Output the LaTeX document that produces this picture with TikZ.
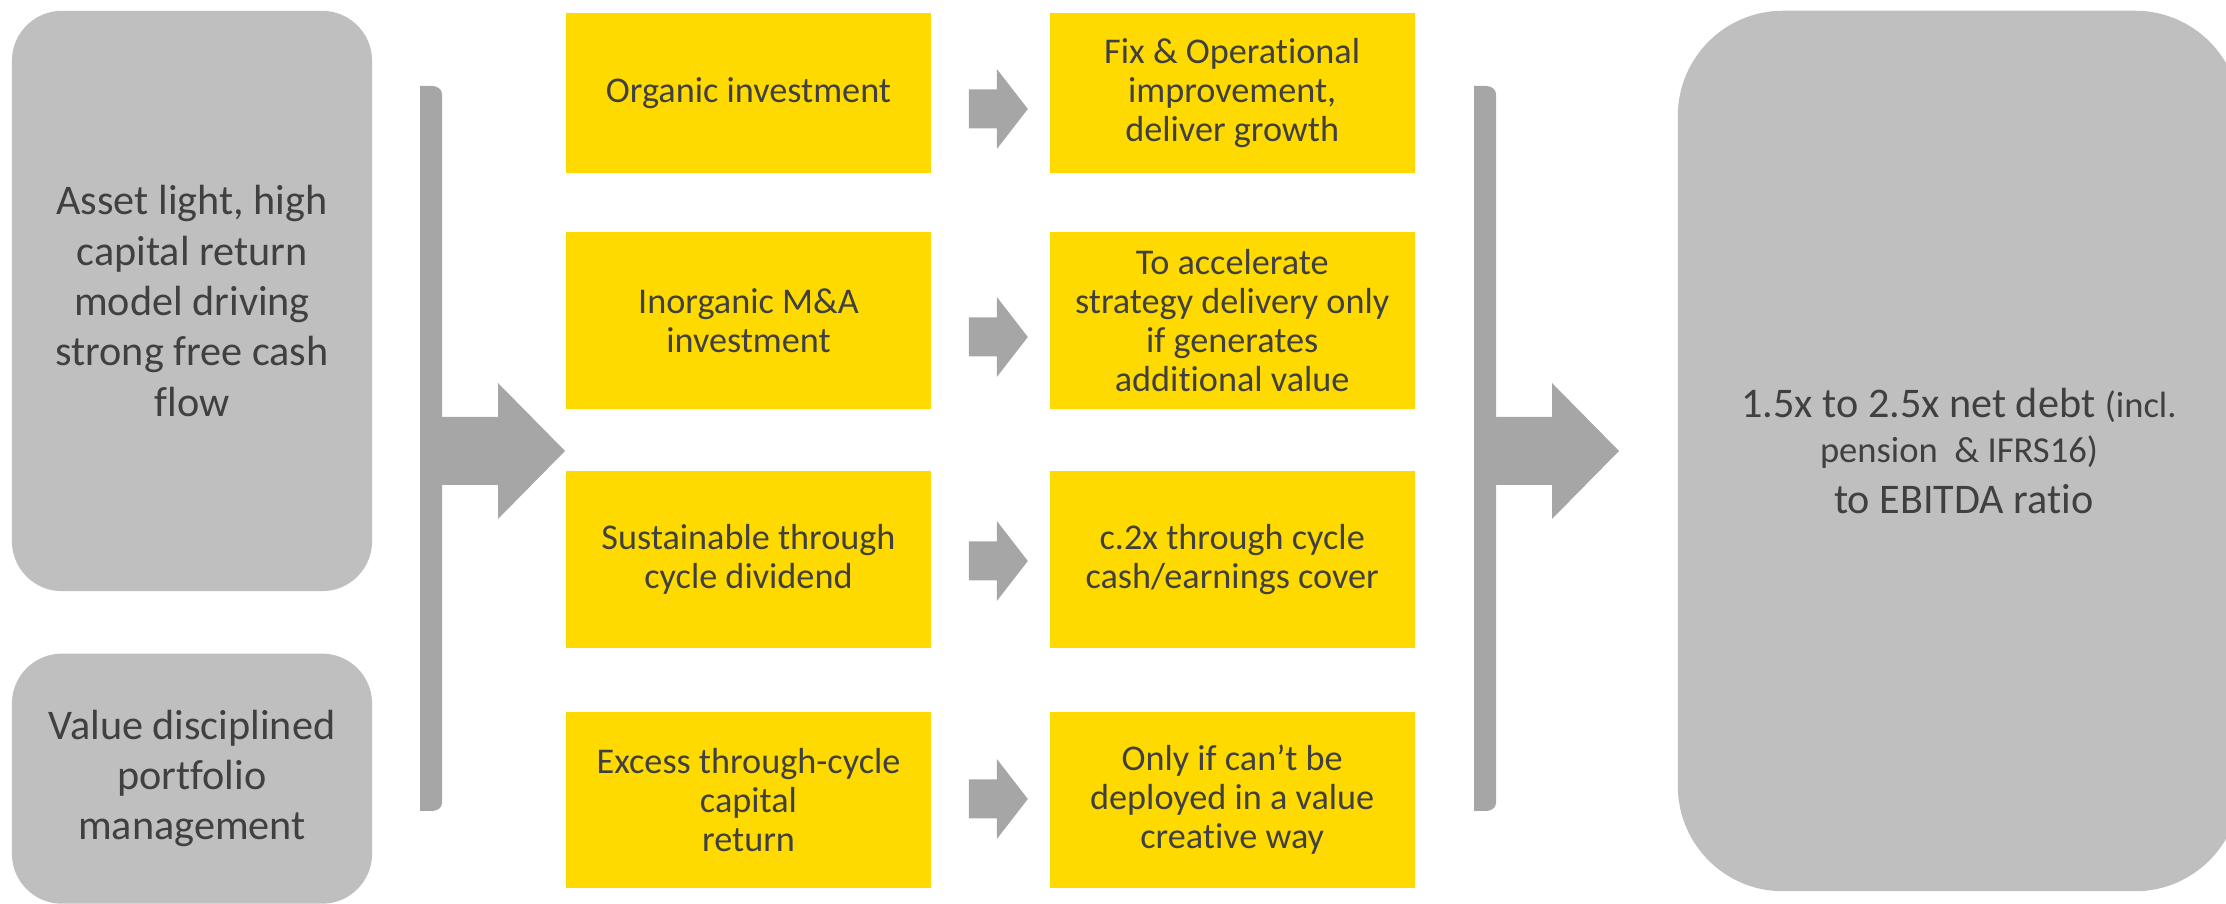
\documentclass[tikz,border=0pt]{standalone}
\usepackage{fontspec}
\setmainfont{Carlito}[Ligatures=NoCommon]
\usepackage{tikz}
\usetikzlibrary{positioning,calc}

\definecolor{boxgray}{HTML}{BFBFBF}
\definecolor{arrowgray}{HTML}{A6A6A6}
\definecolor{capyellow}{HTML}{FFDA00}
\definecolor{txtgray}{HTML}{404040}

\begin{document}
\begin{tikzpicture}[x=0.01cm, y=-0.01cm,
  every node/.style={text=txtgray, align=center, inner sep=0pt},
  pillar/.style={fill=boxgray, rounded corners=0.5cm, minimum width=3.6cm,
    font=\fontsize{12}{14.3}\selectfont},
  lever/.style={fill=capyellow, minimum width=3.65cm,
    font=\fontsize{10.3}{11.1}\selectfont},
  smallarrow/.pic={
    \fill[arrowgray] (-29.5,-19.5) -- (-1.5,-19.5) -- (-1.5,-40) -- (29.5,0)
      -- (-1.5,40) -- (-1.5,19.5) -- (-29.5,19.5) -- cycle;},
  bigarrow/.pic={
    \fill[arrowgray] (-145,-365) -- (-133,-365) to[out=0,in=90] (-123,-357)
      -- (-123,-34) -- (-67,-34) -- (-67,-68) -- (0,0) -- (-67,68) -- (-67,34)
      -- (-123,34) -- (-123,352) to[out=-90,in=0] (-133,360) -- (-145,360) -- cycle;}]

  \clip (0,0) rectangle (2226,904);

  % Sources of cash
  \node[pillar, minimum height=5.8cm] (asset) at (192,301)
    {Asset light, high\\capital return\\model driving\\strong free cash\\flow};
  \node[pillar, minimum height=2.5cm, below=0.61cm of asset] (portfolio)
    {Value disciplined\\portfolio\\management};

  % Uses of capital
  \node[lever, minimum height=1.6cm] (organic) at (748.5,93) {Organic investment};
  \node[lever, minimum height=1.77cm] (inorganic) at (748.5,320.5)
    {Inorganic M\&A\\investment};
  \node[lever, minimum height=1.77cm] (dividend) at (748.5,559.5)
    {Sustainable through\\cycle dividend};
  \node[lever, minimum height=1.76cm] (excess) at (748.5,800)
    {Excess through-cycle\\capital\\return};

  % Conditions
  \node[lever, minimum height=1.6cm, right=1.17cm of organic] (fix)
    {Fix \& Operational\\improvement,\\deliver growth};
  \node[lever, minimum height=1.77cm, right=1.17cm of inorganic] (accel)
    {To accelerate\\strategy delivery only\\if generates\\additional value};
  \node[lever, minimum height=1.77cm, right=1.17cm of dividend] (cover)
    {c.2x through cycle\\cash/earnings cover};
  \node[lever, minimum height=1.76cm, right=1.17cm of excess] (deploy)
    {Only if can’t be\\deployed in a value\\creative way};

  % Leverage target
  \node[pillar, rounded corners=1.05cm, minimum width=5.62cm, minimum height=8.8cm]
    (leverage) at (1959,451)
    {1.5x to 2.5x net debt {\fontsize{10.4}{12}\selectfont (incl.}\\[-1.5pt]
     {\fontsize{10.4}{12}\selectfont pension\ \ \& IFRS16)}\\
     \ to EBITDA ratio};

  % Arrows
  \foreach \a/\b/\dy in {organic/fix/16, inorganic/accel/16.5,
      dividend/cover/1.5, excess/deploy/-1}
    \pic at ($(\a.east)!0.5!(\b.west)+(8,\dy)$) {smallarrow};
  \pic at (565,451) {bigarrow};
  \pic at (1619,451) {bigarrow};

\end{tikzpicture}
\end{document}
